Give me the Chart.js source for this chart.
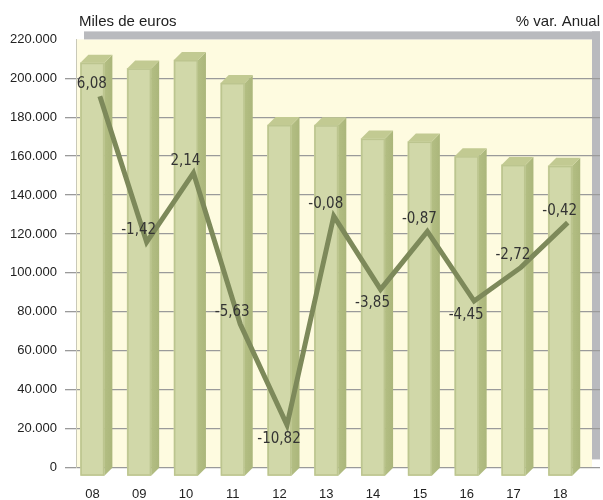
<!DOCTYPE html>
<html>
<head>
<meta charset="utf-8">
<style>
  html, body { margin: 0; padding: 0; background: #fff; }
</style>
</head>
<body>
<canvas id="chart" width="603" height="500"></canvas>
<script src="https://cdn.jsdelivr.net/npm/chart.js@4.4.1/dist/chart.umd.min.js"></script>
<script>
const years = ["08", "09", "10", "11", "12", "13", "14", "15", "16", "17", "18"];
const amounts = [208000, 205100, 209400, 197600, 176000, 175900, 169000, 167500, 160000, 155500, 155000];
const changes = [6.08, -1.42, 2.14, -5.63, -10.82, -0.08, -3.85, -0.87, -4.45, -2.72, -0.42];
const labelSide = ["up", "up", "up", "up", "down", "up", "down", "up", "down", "up", "up"];

const DEPTH = 8;
const FRONT = "#d1d8a9";
const EDGE = "#bcc58f";
const SIDE = "#abb67b";
const TOP = "#c2ca92";
const NARROW = '"Liberation Sans Narrow", "Arial Narrow", "DejaVu Sans Condensed", sans-serif';

Chart.defaults.font.family = '"Liberation Sans", Arial, sans-serif';
Chart.defaults.color = "#222";

function thousands(v) {
  return String(v).replace(/\B(?=(\d{3})+(?!\d))/g, ".");
}

// back wall of the 3D plot
const wall = {
  id: "wall",
  beforeDraw(chart) {
    const { ctx, chartArea: a } = chart;
    const zero = chart.scales.y.getPixelForValue(0);
    ctx.save();
    ctx.fillStyle = "#fefbe0";
    ctx.fillRect(a.left, a.top, a.right - DEPTH - a.left, zero - a.top);
    ctx.fillStyle = "#b9babe";
    ctx.fillRect(a.left + DEPTH, a.top - DEPTH, a.right - a.left - DEPTH, DEPTH);
    ctx.fillRect(a.right - DEPTH, a.top - DEPTH, DEPTH, zero - a.top);
    ctx.restore();
  },
  afterDraw(chart) {
    const ctx = chart.ctx;
    ctx.save();
    ctx.fillStyle = "#222";
    ctx.font = '15px "Liberation Sans", Arial, sans-serif';
    ctx.textBaseline = "alphabetic";
    ctx.textAlign = "left";
    ctx.fillText("Miles de euros", 79, 26);
    ctx.textAlign = "right";
    ctx.fillText("% var. Anual", 600, 26);
    ctx.restore();
  },
};

// side, top and lower part of each bar
const bar3d = {
  id: "bar3d",
  afterDatasetDraw(chart, args) {
    if (args.index !== 0) return;
    const ctx = chart.ctx;
    ctx.save();
    args.meta.data.forEach((bar) => {
      const { x, y, base, width } = bar.getProps(["x", "y", "base", "width"], true);
      const l = x - width / 2;
      const r = x + width / 2;
      const bottom = base + DEPTH + 1;
      ctx.fillStyle = FRONT;
      ctx.fillRect(l, y, width, bottom - y);
      ctx.strokeStyle = EDGE;
      ctx.lineWidth = 1.5;
      ctx.strokeRect(l + 0.75, y + 0.75, width - 1.5, bottom - y - 1.5);

      const g = ctx.createLinearGradient(r, 0, r + DEPTH, 0);
      g.addColorStop(0, "#b3be83");
      g.addColorStop(1, SIDE);
      ctx.fillStyle = g;
      ctx.beginPath();
      ctx.moveTo(r, y);
      ctx.lineTo(r + DEPTH, y - DEPTH);
      ctx.lineTo(r + DEPTH, bottom - DEPTH);
      ctx.lineTo(r, bottom);
      ctx.closePath();
      ctx.fill();

      ctx.fillStyle = TOP;
      ctx.beginPath();
      ctx.moveTo(l, y);
      ctx.lineTo(l + DEPTH, y - DEPTH);
      ctx.lineTo(r + DEPTH, y - DEPTH);
      ctx.lineTo(r, y);
      ctx.closePath();
      ctx.fill();
    });
    ctx.restore();
  },
};

const pointLabels = {
  id: "pointLabels",
  afterDatasetsDraw(chart) {
    const ctx = chart.ctx;
    const meta = chart.getDatasetMeta(1);
    ctx.save();
    ctx.fillStyle = "#333";
    ctx.font = "15px " + NARROW;
    ctx.textAlign = "center";
    ctx.textBaseline = "middle";
    meta.data.forEach((pt, i) => {
      const dy = labelSide[i] === "up" ? -12 : 14;
      ctx.fillText(changes[i].toFixed(2).replace(".", ","), pt.x - 8, pt.y + dy);
    });
    ctx.restore();
  },
};

const X_MIN = -0.35;
const X_MAX = 10.85;
const SHIFT = 0.16;

new Chart(document.getElementById("chart"), {
  data: {
    datasets: [
      {
        type: "bar",
        data: amounts.map((v, i) => ({ x: i, y: v })),
        backgroundColor: FRONT,
        borderWidth: 0,
        grouped: false,
        barThickness: 24,
        maxBarThickness: 24,
        xAxisID: "x",
        yAxisID: "y",
        order: 2,
      },
      {
        type: "line",
        data: changes.map((v, i) => ({ x: i, y: v })),
        borderColor: "#7d895a",
        borderWidth: 5,
        borderJoinStyle: "miter",
        pointRadius: 0,
        tension: 0,
        xAxisID: "x2",
        yAxisID: "y2",
        order: 1,
      },
    ],
  },
  options: {
    responsive: false,
    animation: false,
    layout: { padding: { top: 39.4, right: 3, left: 0, bottom: 0 } },
    plugins: { legend: { display: false }, tooltip: { enabled: false } },
    scales: {
      x: {
        type: "linear",
        offset: false,
        min: X_MIN,
        max: X_MAX,
        grid: { display: false, offset: false },
        border: { display: false },
        afterBuildTicks: (s) => { s.ticks = years.map((_, i) => ({ value: i })); },
        afterFit: (s) => { s.height = 32.6; },
        ticks: {
          padding: 11.5,
          font: { size: 13 },
          callback: (v) => years[v],
        },
      },
      x2: { type: "linear", display: false, offset: false, min: X_MIN - SHIFT, max: X_MAX - SHIFT },
      y: {
        min: 0,
        max: 220000,
        afterFit: (s) => { s.width = 76; },
        grid: {
          color: (c) => (c.tick && c.tick.value === 220000 ? "rgba(0,0,0,0)" : "#9a9a9a"),
          lineWidth: 1.3,
          tickLength: 11,
        },
        border: { display: true, color: "#c9c9b8" },
        ticks: {
          stepSize: 20000,
          padding: 8,
          font: { size: 13 },
          callback: (v) => thousands(v),
        },
      },
      y2: { type: "linear", display: false, min: -13, max: 9 },
    },
  },
  plugins: [wall, bar3d, pointLabels],
});
</script>
</body>
</html>
